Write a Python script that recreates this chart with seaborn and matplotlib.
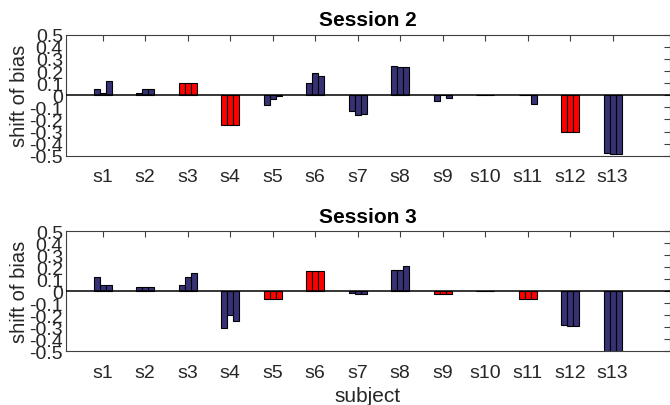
import numpy as np
import pandas as pd
import matplotlib
matplotlib.use("Agg")
import matplotlib.pyplot as plt
import seaborn as sns

subjects = ["s1", "s2", "s3", "s4", "s5", "s6", "s7", "s8", "s9", "s10", "s11", "s12", "s13"]

# three runs per subject
session2_run1 = [0.05, 0.02, 0.10, -0.25, -0.08, 0.10, -0.13, 0.24, -0.05, 0.004, 0.002, -0.30, -0.475]
session2_run2 = [0.02, 0.05, 0.10, -0.25, -0.03, 0.18, -0.16, 0.23, 0.0, 0.004, 0.002, -0.30, -0.485]
session2_run3 = [0.12, 0.05, 0.10, -0.25, -0.005, 0.16, -0.155, 0.23, -0.02, 0.004, -0.075, -0.30, -0.485]
session2_red = ["s3", "s4", "s10", "s12"]

session3_run1 = [0.12, 0.04, 0.05, -0.305, -0.06, 0.17, -0.015, 0.18, -0.025, 0.003, -0.065, -0.28, -0.58]
session3_run2 = [0.05, 0.04, 0.12, -0.20, -0.06, 0.17, -0.02, 0.18, -0.025, 0.003, -0.065, -0.29, -0.56]
session3_run3 = [0.05, 0.04, 0.15, -0.25, -0.06, 0.17, -0.02, 0.21, -0.025, 0.003, -0.065, -0.29, -0.56]
session3_red = ["s5", "s6", "s9", "s10", "s11"]

yticks = [-0.5, -0.4, -0.3, -0.2, -0.1, 0, 0.1, 0.2, 0.3, 0.4, 0.5]
ytick_labels = ["-0.5", "-0.4", "-0.3", "-0.2", "-0.1", "0", "0.1", "0.2", "0.3", "0.4", "0.5"]

sns.set_style("white")
plt.rcParams["font.family"] = ["Liberation Sans", "DejaVu Sans"]
plt.rcParams["axes.unicode_minus"] = False

blue = "#2d2780"
red = "#ff0000"
txt = "#262626"


def make_df(r1, r2, r3):
    rows = []
    for run, vals in zip(["1", "2", "3"], [r1, r2, r3]):
        for s, v in zip(subjects, vals):
            rows.append({"subject": s, "run": run, "shift": v})
    return pd.DataFrame(rows)


def draw(ax, df, red_subjects, title):
    sns.barplot(data=df, x="subject", y="shift", hue="run", order=subjects,
                palette=[blue, blue, blue], width=0.42, gap=0, errorbar=None,
                edgecolor="black", linewidth=0.8, legend=False, ax=ax)
    for cont in ax.containers:
        for i, bar in enumerate(cont):
            if subjects[i] in red_subjects:
                bar.set_facecolor(red)
    ax.axhline(0, color="black", lw=1.1, zorder=3)
    ax.set_xlim(-0.87, 13.35)
    ax.set_ylim(-0.5, 0.5)
    ax.set_yticks(yticks)
    ax.set_yticklabels(ytick_labels)
    ax.set_title(title, fontsize=15, fontweight="bold", color="black", pad=7)
    ax.set_ylabel("shift of bias", fontsize=14.5, color=txt)
    ax.yaxis.set_label_coords(-0.06, 0.5)
    ax.set_xlabel("")
    ax.tick_params(direction="in", top=True, right=True, length=4, width=0.8,
                   color="#404040", labelcolor=txt, labelsize=14)
    ax.tick_params(axis="x", pad=9)
    ax.tick_params(axis="y", pad=2)
    for sp in ax.spines.values():
        sp.set_visible(True)
        sp.set_color("#404040")
        sp.set_linewidth(0.8)


fig = plt.figure(figsize=(6.7, 4.06), dpi=100)
ax1 = fig.add_axes([0.098, 0.614, 0.902, 0.298])
ax2 = fig.add_axes([0.098, 0.132, 0.902, 0.296])

draw(ax1, make_df(session2_run1, session2_run2, session2_run3), session2_red, "Session 2")
draw(ax2, make_df(session3_run1, session3_run2, session3_run3), session3_red, "Session 3")
ax2.set_xlabel("subject", fontsize=15, color=txt, labelpad=4)

fig.savefig("out.png", dpi=100)
